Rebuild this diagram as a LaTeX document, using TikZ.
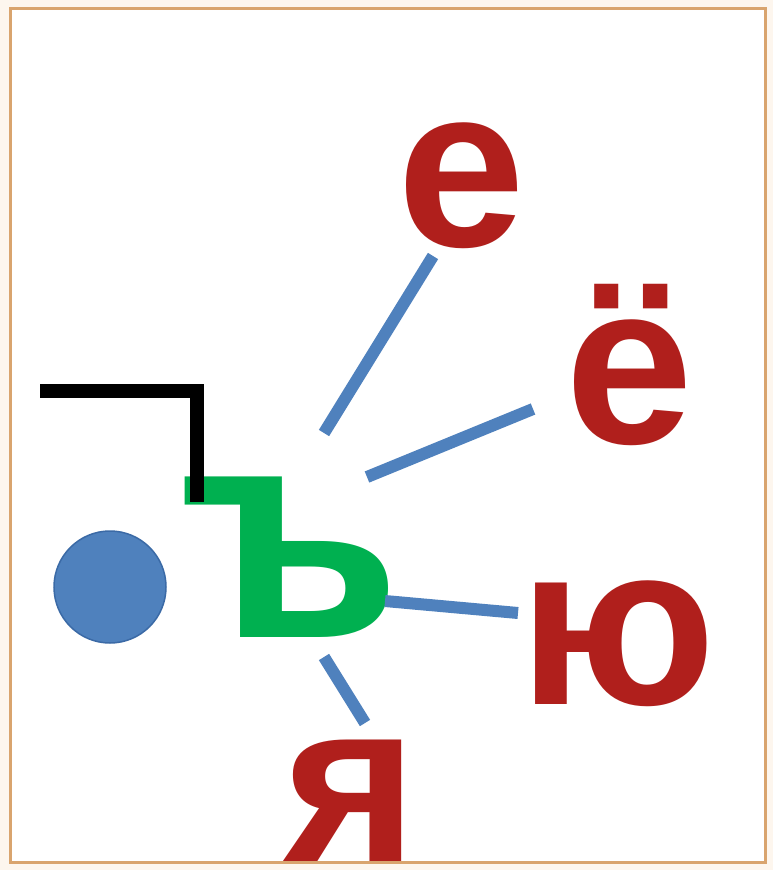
\documentclass[tikz,border=0pt]{standalone}
\usepackage{fontspec}
\setmainfont{Liberation Sans}
\definecolor{frameC}{HTML}{D9A46E}
\definecolor{outerC}{HTML}{FDF6EE}
\definecolor{letterC}{HTML}{B01F1C}
\definecolor{greenC}{HTML}{00B050}
\definecolor{blueC}{HTML}{4F81BD}
\definecolor{blueD}{HTML}{3B6AA6}
\begin{document}
\begin{tikzpicture}[x=1pt,y=-1pt,
  letter/.style={inner sep=0pt,anchor=base,text=letterC,font=\fontsize{230}{230}\selectfont\bfseries},
  bigletter/.style={inner sep=0pt,anchor=base,text=greenC,font=\fontsize{304}{304}\selectfont\bfseries},
  ray/.style={draw=blueC,line width=12pt},
  hook/.style={draw=black,line width=14pt}]
\useasboundingbox (0,0) rectangle (773,870);
\fill[outerC] (0,0) rectangle (773,870);
\fill[white] (10,8) rectangle (765,862);
\begin{scope}
\clip (10,8) rectangle (765,862);
\node[letter] (e) at (461,246) {е};
\node[letter] (yo) at (629,443) {ё};
\node[letter] (yu) at (618,704) {ю};
\node[letter] (ya) at (351,861) {я};
\node[bigletter] (hard) at (290,637) {ъ};
\end{scope}
\draw[frameC,line width=3pt] (10,8) rectangle (765,862);
% blue circle
\node[circle,fill=blueC,draw=blueD,line width=1.5pt,minimum size=112pt,inner sep=0pt] (dot) at (110,587) {};
% black hook
\coordinate (h1) at (40,391);
\coordinate (h2) at (197,391);
\coordinate (h3) at (197,502);
\draw[hook] (h1) -- (h2) -- (h3);
% rays
\coordinate (r1a) at (433,256);
\coordinate (r1b) at (324,433);
\coordinate (r2a) at (533,409);
\coordinate (r2b) at (367,477);
\coordinate (r3a) at (385,601);
\coordinate (r3b) at (518,613);
\coordinate (r4a) at (324,657);
\coordinate (r4b) at (365,723);
\draw[ray] (r1a) -- (r1b);
\draw[ray] (r2a) -- (r2b);
\draw[ray] (r3a) -- (r3b);
\draw[ray] (r4a) -- (r4b);
\end{tikzpicture}
\end{document}
